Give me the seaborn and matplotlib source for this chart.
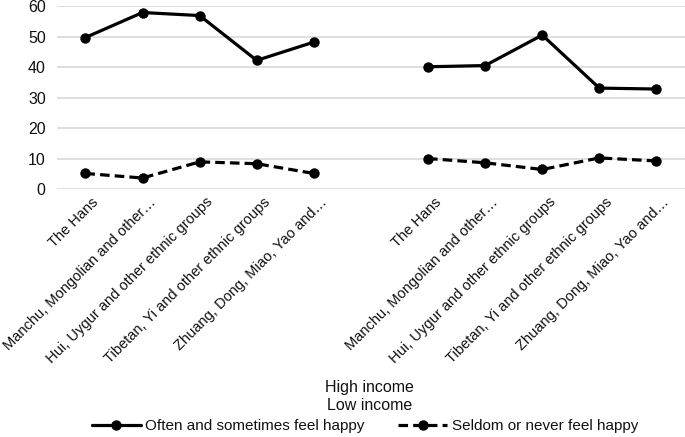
import matplotlib
matplotlib.use("Agg")
import matplotlib.pyplot as plt
import matplotlib.transforms as mtrans
import seaborn as sns
import pandas as pd

categories = ["The Hans", "Manchu, Mongolian and other\u2026",
              "Hui, Uygur and other ethnic groups",
              "Tibetan, Yi and other ethnic groups",
              "Zhuang, Dong, Miao, Yao and\u2026"]
groups = ["High income", "Low income"]
series_names = ["Often and sometimes feel happy", "Seldom or never feel happy"]
often_high = [49.7, 57.9, 56.9, 42.2, 48.2]
often_low = [40.1, 40.5, 50.5, 33.1, 32.8]
seldom_high = [5.1, 3.6, 8.9, 8.3, 5.1]
seldom_low = [10.0, 8.6, 6.4, 10.2, 9.2]

rows = []
values = {(series_names[0], groups[0]): often_high,
          (series_names[0], groups[1]): often_low,
          (series_names[1], groups[0]): seldom_high,
          (series_names[1], groups[1]): seldom_low}
for (s, g), vals in values.items():
    gi = groups.index(g)
    for ci, v in enumerate(vals):
        rows.append({"series": s, "income": g, "pos": gi * (len(categories) + 1) + ci,
                     "value": v})
df = pd.DataFrame(rows)

sns.set_theme(style="white")
plt.rcParams["font.family"] = ["Liberation Sans", "DejaVu Sans"]
txt = "#111111"

fig = plt.figure(figsize=(6.85, 4.37), dpi=100)
ax = fig.add_axes([0.083, 0.5675, 0.917, 0.4185])

sns.lineplot(data=df, x="pos", y="value", style="series", units="income",
             estimator=None, color="black", markers=["o", "o"],
             dashes=["", (3, 1.6)], linewidth=2.3, markersize=7.5,
             markeredgewidth=0, ax=ax, style_order=series_names, sort=True)

ax.set_xlim(-0.5, 2 * len(categories) + 0.5)
ax.set_ylim(0, 60)
ax.set_yticks(range(0, 61, 10))
ax.yaxis.grid(True, color="#d9d9d9", linewidth=1.2)
ax.set_axisbelow(True)
for sp in ax.spines.values():
    sp.set_visible(False)
ax.set_xlabel("")
ax.set_ylabel("")

positions = [gi * (len(categories) + 1) + ci for gi in range(2) for ci in range(len(categories))]
labels = categories * 2
ax.set_xticks(positions)
ax.set_xticklabels([])
lab_tr = mtrans.offset_copy(ax.get_xaxis_transform(), fig=fig, x=6, y=-6, units="dots")
for p, lab in zip(positions, labels):
    ax.text(p, 0, lab, transform=lab_tr, rotation=45, ha="right", va="top",
            rotation_mode="anchor", fontsize=10.5, color=txt, clip_on=False)
ax.tick_params(axis="x", length=0, colors=txt)
ax.tick_params(axis="y", length=0, pad=8, labelsize=11.5, colors=txt)

fig.text(0.54, 0.114, groups[0], ha="center", va="center", fontsize=11.5, color=txt)
fig.text(0.54, 0.073, groups[1], ha="center", va="center", fontsize=11.5, color=txt)

sns.move_legend(ax, "lower center", bbox_to_anchor=(0.533, -0.012),
                bbox_transform=fig.transFigure, ncol=2, title=None, frameon=False,
                fontsize=11, handlelength=3.2, columnspacing=2.2, handletextpad=0.3,
                borderpad=0.1)
for t in ax.get_legend().get_texts():
    t.set_color(txt)

fig.savefig("out.png", dpi=100)
